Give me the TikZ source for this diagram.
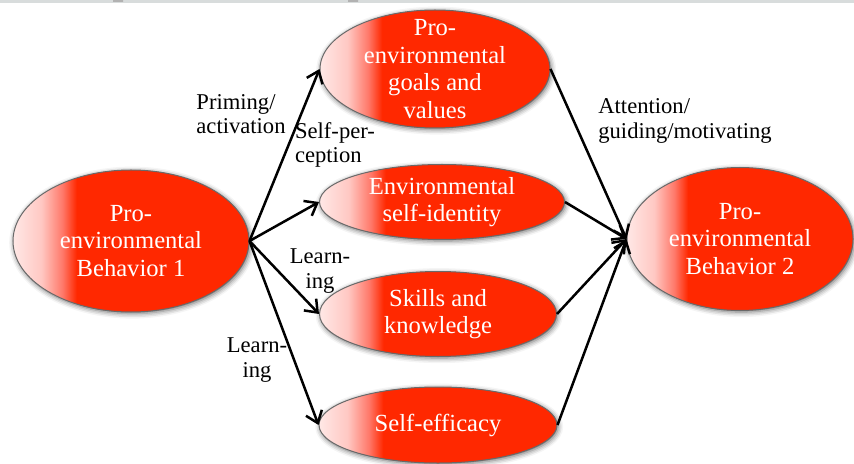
\documentclass[tikz,border=0pt]{standalone}
\usepackage{fontspec}
\setmainfont{Liberation Serif}
\usetikzlibrary{arrows.meta,positioning,shapes.geometric,shadows.blur}
\definecolor{OvalRed}{RGB}{255,40,0}
\definecolor{PalePink}{RGB}{255,232,230}
\definecolor{LightPink}{RGB}{255,200,195}
\definecolor{MidPink}{RGB}{255,120,105}
\definecolor{RimGray}{RGB}{105,105,105}
\definecolor{BarGray}{RGB}{216,220,220}
% pale rim on the left, full red from about a quarter of the width on
\pgfdeclarehorizontalshading{ovalfade}{100bp}{color(0bp)=(PalePink); color(25bp)=(PalePink);
  color(31bp)=(LightPink); color(35.5bp)=(MidPink); color(38.5bp)=(OvalRed); color(100bp)=(OvalRed)}
\tikzset{
  oval/.style={ellipse,draw=RimGray,line width=0.5pt,shading=ovalfade,
    blur shadow={shadow xshift=0.6pt,shadow yshift=-0.8pt,shadow blur radius=2.5pt,shadow opacity=60},
    text=white,align=center,inner xsep=0pt,inner ysep=-14pt,
    font=\fontsize{12.3}{13.8}\selectfont},
  edgelabel/.style={font=\fontsize{11.3}{12.3}\selectfont,inner sep=0pt},
  arrow/.style={-{Straight Barb[length=5.5pt,width=8.5pt]},line width=1.25pt,black}
}

\begin{document}
\begin{tikzpicture}[x=0.5pt,y=-0.5pt]
  \useasboundingbox (0,0) rectangle (854,464);
  % strip along the top edge
  \fill[BarGray] (0,0) rectangle (854,3.5);
  \fill[gray!60] (113,0) rectangle (123,2) (348,0) rectangle (358,2);

  % behaviours and the four routes between them
  \node[oval,minimum width=118pt,minimum height=71pt] (pb1) at (131,241) {Pro-\\environmental\\Behavior 1};
  \node[oval,minimum width=115pt,minimum height=59pt] (goals) at (435,69) {Pro-\\environmental\\goals and\\values};
  \node[oval,minimum width=122.5pt,minimum height=37.5pt] (selfid) at (442,202) {Environmental\\self-identity};
  \node[oval,minimum width=118.5pt,minimum height=42.5pt] (skills) at (438,314) {Skills and\\knowledge};
  \node[oval,minimum width=119pt,minimum height=38pt] (efficacy) at (438,425) {Self-efficacy};
  \node[oval,minimum width=113pt,minimum height=71.5pt] (pb2) at (740,239) {Pro-\\environmental\\Behavior 2};

  \draw[arrow] (pb1.east) -- (goals.west);
  \draw[arrow] (pb1.east) -- (selfid.west);
  \draw[arrow] (pb1.east) -- (skills.west);
  \draw[arrow] (pb1.east) -- (efficacy.west);

  \draw[arrow] (goals.east) -- (pb2.west);
  \draw[arrow] (selfid.east) -- (pb2.west);
  \draw[arrow] (skills.east) -- (pb2.west);
  \draw[arrow] (efficacy.east) -- (pb2.west);

  % mechanism labels
  \node[edgelabel,align=left] (lblprime) at (241,114) {Priming/\\activation};
  \node[edgelabel,align=left] (lblself) at (335,145) {Self-per-\\ception};
  \node[edgelabel,align=center] (lbllearnA) at (320,271) {Learn-\\ing};
  \node[edgelabel,align=center] (lbllearnB) at (257,360) {Learn-\\ing};
  \node[edgelabel,align=left] (lblattn) at (685,121) {Attention/\\guiding/motivating};
\end{tikzpicture}
\end{document}
